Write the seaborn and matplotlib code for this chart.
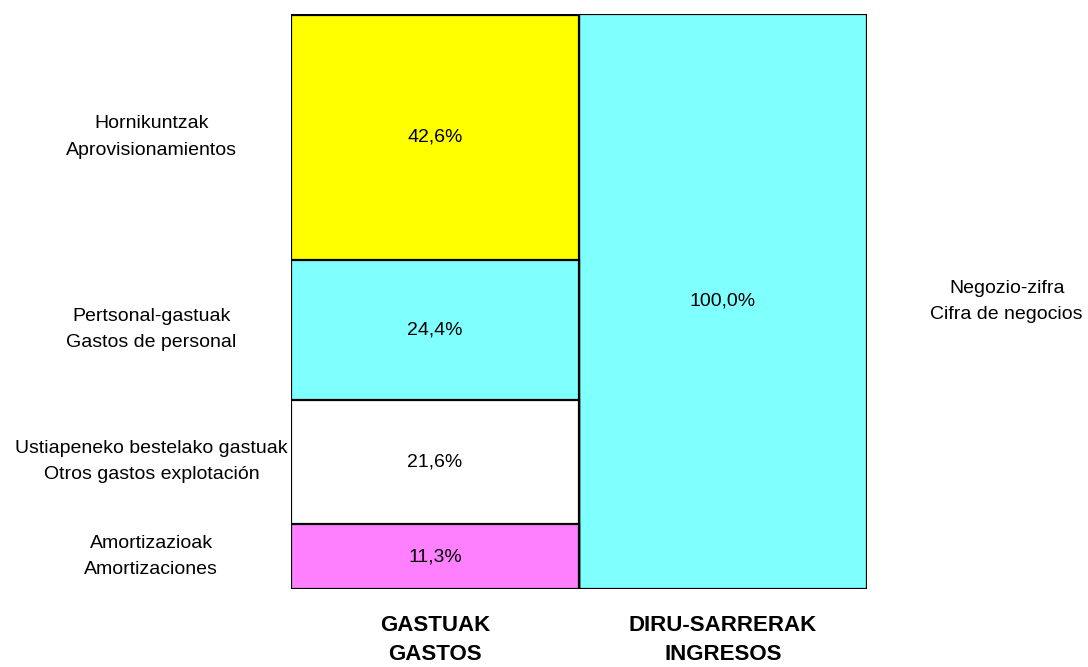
import pandas as pd
import matplotlib.pyplot as plt
import seaborn as sns
from matplotlib import font_manager

# data
bars = ["GASTUAK\nGASTOS", "DIRU-SARRERAK\nINGRESOS"]
expense_names = [
    "Amortizazioak\nAmortizaciones",
    "Ustiapeneko bestelako gastuak\nOtros gastos explotación",
    "Pertsonal-gastuak\nGastos de personal",
    "Hornikuntzak\nAprovisionamientos",
]
expense_values = [11.3, 21.6, 24.4, 42.6]
expense_colors = ["#FF80FF", "#FFFFFF", "#80FFFF", "#FFFF00"]
income_names = ["Negozio-zifra\nCifra de negocios"]
income_values = [100.0]
income_colors = ["#80FFFF"]

sns.set_style("white")
available = {f.name for f in font_manager.fontManager.ttflist}
family = [f for f in ["Liberation Sans Narrow", "Liberation Sans", "DejaVu Sans"] if f in available]
plt.rcParams["font.family"] = family
plt.rcParams["text.color"] = "black"
plt.rcParams["xtick.color"] = "black"

fig = plt.figure(figsize=(10.88, 6.67), dpi=100)
ax = fig.add_axes([291 / 1088, 78 / 667, 576 / 1088, 575 / 667])


def fmt(v):
    return f"{v:.1f}%".replace(".", ",")


segments = []
bottom = 0.0
for name, val, col in zip(expense_names, expense_values, expense_colors):
    segments.append((bars[0], name, val, bottom, col, "left"))
    bottom += val
bottom = 0.0
for name, val, col in zip(income_names, income_values, income_colors):
    segments.append((bars[1], name, val, bottom, col, "right"))
    bottom += val

# draw tallest cumulative layers first so smaller ones sit on top
order = sorted(segments, key=lambda s: -(s[3] + s[2]))
for bar, name, val, base, col, side in order:
    df = pd.DataFrame({"bar": [bar], "top": [base + val]})
    sns.barplot(data=df, x="bar", y="top", order=bars, color=col, width=1.0,
                edgecolor="black", linewidth=1.6, saturation=1, ax=ax)

for bar, name, val, base, col, side in segments:
    xi = bars.index(bar)
    ymid = base + val / 2
    ax.text(xi, ymid, fmt(val), ha="center", va="center", fontsize=14,
            color="black")
    if side == "left":
        ax.text(-0.985, ymid, name, ha="center", va="center", fontsize=14,
                linespacing=1.7, color="black")
    else:
        ax.text(1.985, ymid, name, ha="center", va="center", fontsize=14,
                linespacing=1.7, color="black")

ax.set_xlim(-0.5, 1.5)
ax.set_ylim(0, 100)
ax.set_yticks([])
ax.set_xlabel("")
ax.set_ylabel("")
ax.tick_params(axis="x", length=0, pad=19)
for lbl in ax.get_xticklabels():
    lbl.set_fontsize(16)
    lbl.set_fontweight("bold")
    lbl.set_linespacing(1.5)
    lbl.set_color("black")
for s in ax.spines.values():
    s.set_visible(False)

plt.savefig("out.png", dpi=100)
plt.close()
